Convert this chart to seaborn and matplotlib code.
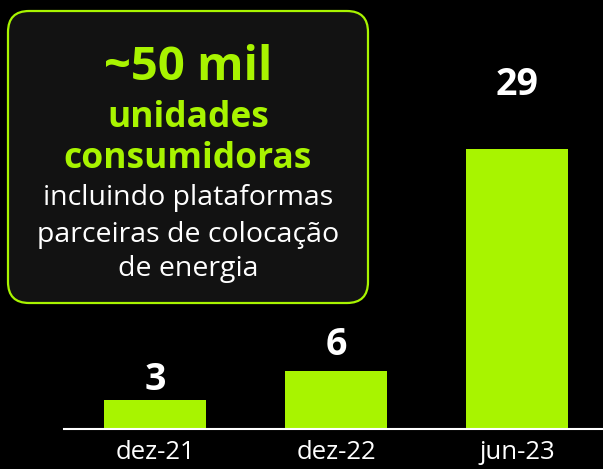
import matplotlib
matplotlib.use("Agg")
import matplotlib.pyplot as plt
import seaborn as sns
import pandas as pd
from matplotlib.patches import FancyBboxPatch

# data
periods = ["dez-21", "dez-22", "jun-23"]
values = [3, 6, 29]
box_title = "~50 mil"
box_sub = ["unidades", "consumidoras"]
box_note = ["incluindo plataformas", "parceiras de colocação", "de energia"]

lime = "#a8f400"
sns.set_style("dark")
plt.rcParams["font.family"] = ["Open Sans", "DejaVu Sans"]

df = pd.DataFrame({"period": periods, "value": values})

fig = plt.figure(figsize=(6.03, 4.69), dpi=100)
fig.patch.set_facecolor("black")

ax = fig.add_axes([64 / 603, 40 / 469, 539 / 603, 429 / 469])
sns.barplot(data=df, x="period", y="value", color=lime, width=0.56,
            saturation=1, linewidth=0, ax=ax)
ax.set_facecolor("none")
ax.set_xlim(-0.503, 2.475)
ax.set_ylim(0, 44.4)
ax.set_xlabel("")
ax.set_ylabel("")
ax.set_yticks([])
ax.grid(False)
for s in ["top", "left", "right"]:
    ax.spines[s].set_visible(False)
ax.spines["bottom"].set_color("white")
ax.spines["bottom"].set_linewidth(1.5)
ax.tick_params(axis="x", length=0, colors="white", labelsize=18.5, pad=8)

pads = [1, 5, 32]
for bar, v, p in zip(ax.patches, values, pads):
    ax.annotate(str(v), (bar.get_x() + bar.get_width() / 2, bar.get_height()),
                xytext=(0, p), textcoords="offset points", ha="center", va="bottom",
                color="white", fontsize=27, fontweight="bold")

# text box
box = FancyBboxPatch((8 / 603, 1 - 303 / 469), 360 / 603, 292 / 469,
                     boxstyle="round,pad=0,rounding_size=0.035",
                     transform=fig.transFigure, facecolor="#121212",
                     edgecolor=lime, linewidth=1.6, mutation_aspect=603 / 469)
fig.patches.append(box)

cx = 188 / 603
fig.text(cx, 1 - 67 / 469, box_title, color=lime, fontsize=34, fontweight="bold",
         ha="center", va="center")
for y, t in zip([118, 159], box_sub):
    fig.text(cx, 1 - y / 469, t, color=lime, fontsize=25.5, fontweight="bold",
             ha="center", va="center")
for y, t in zip([198, 235, 269], box_note):
    fig.text(cx, 1 - y / 469, t, color="white", fontsize=20.5,
             ha="center", va="center")

fig.savefig("out.png", dpi=100, facecolor="black")
